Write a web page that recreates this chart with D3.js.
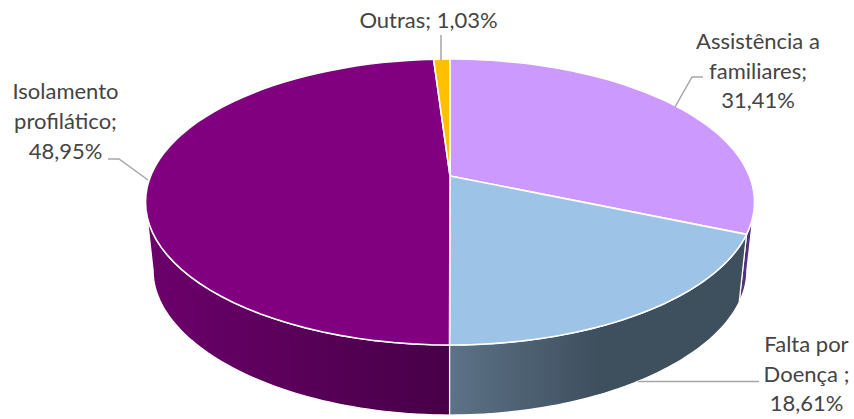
<!DOCTYPE html>
<html>
<head>
<meta charset="utf-8">
<script src="https://cdn.jsdelivr.net/npm/d3@7"></script>
<style>
html, body { margin: 0; padding: 0; background: #fff; }
svg { display: block; }
text { font-family: Lato, "Open Sans", sans-serif; font-size: 22px; fill: #444; text-anchor: middle; }
</style>
</head>
<body>
<div id="content"></div>
<script>
// chart values
var categories = ["Assistência a familiares", "Falta por Doença", "Isolamento profilático", "Outras"],
    percents = [31.41, 18.61, 48.95, 1.03],
    labelLines = [
        ["Assistência a", "familiares;", "31,41%"],
        ["Falta por", "Doença ;", "18,61%"],
        ["Isolamento", "profilático;", "48,95%"],
        ["Outras; 1,03%"]
    ],
    topColors = ["#CC99FF", "#9DC3E6", "#800080", "#FFC000"];

var width = 854,
    height = 419,
    // side wall shading, left to right
    sideColors = [["#5a3a7e", "#4a2a6e"], ["#5d7287", "#3e4f5e"], ["#6c006c", "#470047"], ["#a07a00", "#a07a00"]],
    // where each label sits and the leader line that goes to it
    labelPos = [
        { x: 758, y: 49, dy: 29.5, leader: [[703, 77], [692, 77], [675, 107]] },
        { x: 806.5, y: 352, dy: 29.5, leader: [[759, 381.5], [638, 381.5]] },
        { x: 65.5, y: 99, dy: 30, leader: [[108, 159], [119, 159], [148, 180]] },
        { x: 428.5, y: 28, dy: 0, leader: [[441, 35], [441, 60]] }
    ];

var svg = d3.select('#content').append('svg')
    .attr('viewBox', '0 0 ' + width + ' ' + height)
    .attr('width', width)
    .attr('height', height);

var pie = d3.pie().sort(null).value(function(d){ return d; });
var arcs = pie(percents);

// the pie is tilted with perspective: the slices meet above the middle of the ellipse
var persp = -0.1818;
var topDisc = { x: 450, y: 176, a: 299.4, b: 138.3, k: persp },
    bottomDisc = { x: 450, y: 245.5, a: 291.9, b: 132.2, k: -0.22 };

function project(disc, angle) {
    var u = Math.sin(angle), v = -Math.cos(angle);
    return [disc.x + disc.a * u / (1 + persp * v), disc.y + disc.b * v / (1 + disc.k * v)];
}

function arcPoints(disc, a0, a1) {
    return d3.range(0, 61).map(function(i){
        return project(disc, a0 + (a1 - a0) * i / 60);
    });
}

var line = d3.line();
var defs = svg.append('defs');

arcs.forEach(function(d, i){
    var g = defs.append('linearGradient').attr('id', 'side' + i);
    g.append('stop').attr('offset', 0).attr('stop-color', sideColors[i][0]);
    g.append('stop').attr('offset', i === 1 ? 0.5 : 1).attr('stop-color', sideColors[i][1]);
});

// side walls first, only the slices that face the viewer
// the outline of the disc is widest a little below the middle because of the perspective
var widest = Math.asin(-persp);
var front = [Math.PI / 2 + widest, Math.PI * 1.5 - widest];
svg.append('g').selectAll('path')
    .data(arcs.filter(function(d){ return d.startAngle < front[1] && d.endAngle > front[0]; }))
    .enter().append('path')
    .attr('fill', function(d){ return 'url(#side' + d.index + ')'; })
    .attr('stroke', '#fff')
    .attr('stroke-width', 1.2)
    .attr('d', function(d){
        var a0 = Math.max(d.startAngle, front[0]),
            a1 = Math.min(d.endAngle, front[1]);
        return line(arcPoints(topDisc, a0, a1).concat(arcPoints(bottomDisc, a1, a0))) + 'Z';
    });

// top face
svg.append('g').selectAll('path')
    .data(arcs)
    .enter().append('path')
    .attr('fill', function(d){ return topColors[d.index]; })
    .attr('stroke', '#fff')
    .attr('stroke-width', 1.6)
    .attr('stroke-linejoin', 'round')
    .attr('d', function(d){
        return line([[topDisc.x, topDisc.y]].concat(arcPoints(topDisc, d.startAngle, d.endAngle))) + 'Z';
    });

// leader lines
svg.append('g').selectAll('path')
    .data(labelPos)
    .enter().append('path')
    .attr('fill', 'none')
    .attr('stroke', '#a6a6a6')
    .attr('stroke-width', 1.5)
    .attr('d', function(d){ return line(d.leader); });

// labels
var labels = svg.append('g').selectAll('text')
    .data(labelLines)
    .enter().append('text')
    .attr('aria-label', function(d, i){ return categories[i]; });

labels.selectAll('tspan')
    .data(function(d, i){
        return d.map(function(s, j){ return { s: s, pos: labelPos[i], j: j }; });
    })
    .enter().append('tspan')
    .attr('x', function(d){ return d.pos.x; })
    .attr('y', function(d){ return d.pos.y + d.j * d.pos.dy; })
    .text(function(d){ return d.s; });
</script>
</body>
</html>
